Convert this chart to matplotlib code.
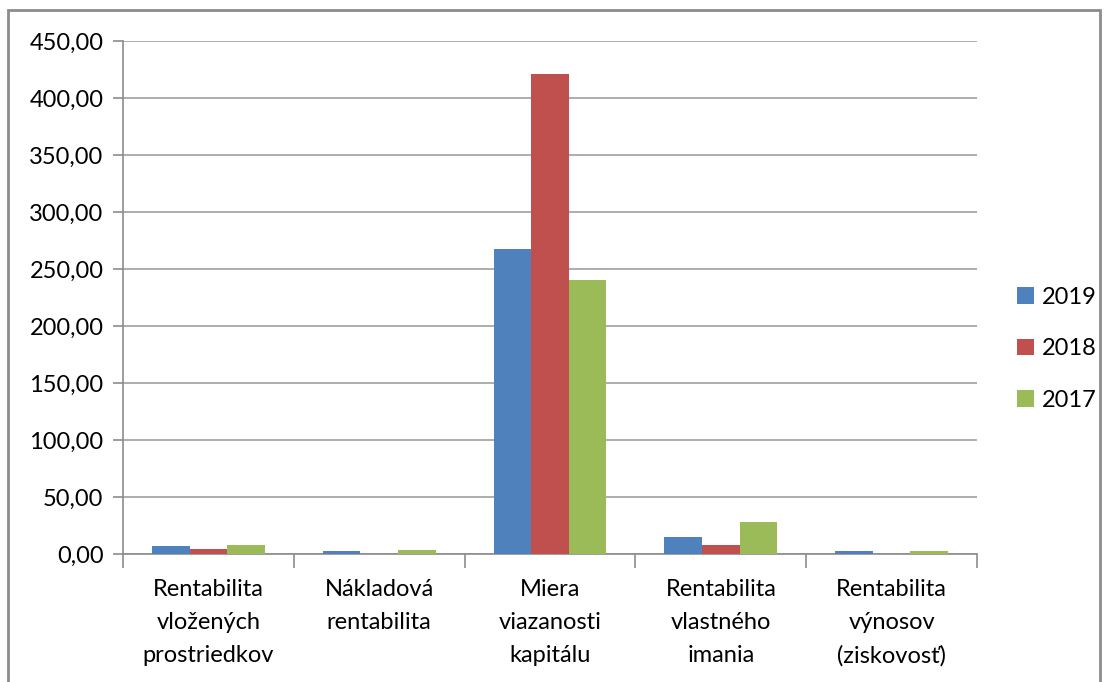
import numpy as np
import matplotlib.pyplot as plt
from matplotlib.patches import Rectangle
from matplotlib.ticker import FuncFormatter

categories = ["Rentabilita\nvložených\nprostriedkov", "Nákladová\nrentabilita",
              "Miera\nviazanosti\nkapitálu", "Rentabilita\nvlastného\nimania",
              "Rentabilita\nvýnosov\n(ziskovosť)"]
years = ["2019", "2018", "2017"]
v2019 = [6.7, 2.3, 267.3, 14.6, 2.3]
v2018 = [4.4, 0.0, 420.8, 7.9, 0.0]
v2017 = [7.9, 3.2, 240.1, 28.1, 2.3]
colors = ["#4f81bd", "#c0504d", "#9bbb59"]

plt.rcParams['font.family'] = ['Lato', 'DejaVu Sans']

fig = plt.figure(figsize=(11.09, 6.82), dpi=100)
ax = fig.add_axes([0.1109, 0.1877, 0.7701, 0.7522])

# outer frame of the chart
fig.patches.append(Rectangle((8 / 1109, -0.05), 1092 / 1109, 1.05 - 10 / 682,
                             transform=fig.transFigure, fill=False,
                             edgecolor="#8c8c8c", linewidth=2))

x = np.arange(len(categories))
w = 0.22
for i, (vals, c, lab) in enumerate(zip([v2019, v2018, v2017], colors, years)):
    ax.bar(x + (i - 1) * w, vals, width=w, color=c, label=lab, zorder=3)

ax.set_xlim(-0.5, len(categories) - 0.5)
ax.set_ylim(0, 450)
ax.set_yticks(np.arange(0, 451, 50))
ax.yaxis.set_major_formatter(FuncFormatter(lambda v, p: f"{v:.2f}".replace(".", ",")))
ax.grid(axis="y", color="#a0a0a0", linewidth=1.2, zorder=0)

ax.set_xticks(x)
ax.set_xticklabels(categories, fontsize=17, linespacing=1.7)
ax.set_xticks(np.arange(-0.5, len(categories), 1), minor=True)
ax.tick_params(axis="x", which="major", length=0, pad=18)
ax.tick_params(axis="x", which="minor", length=10, color="#8c8c8c", width=1.2)
ax.tick_params(axis="y", length=7, color="#8c8c8c", width=1.2, labelsize=17, pad=7)

for s in ["top", "right"]:
    ax.spines[s].set_visible(False)
for s in ["left", "bottom"]:
    ax.spines[s].set_color("#8c8c8c")
    ax.spines[s].set_linewidth(1.2)

ax.legend(loc="center left", bbox_to_anchor=(1.033, 0.40), frameon=False,
          fontsize=17, handlelength=0.7, handleheight=0.7, labelspacing=1.3,
          handletextpad=0.35, borderpad=0)

fig.savefig("out.png", dpi=100)
